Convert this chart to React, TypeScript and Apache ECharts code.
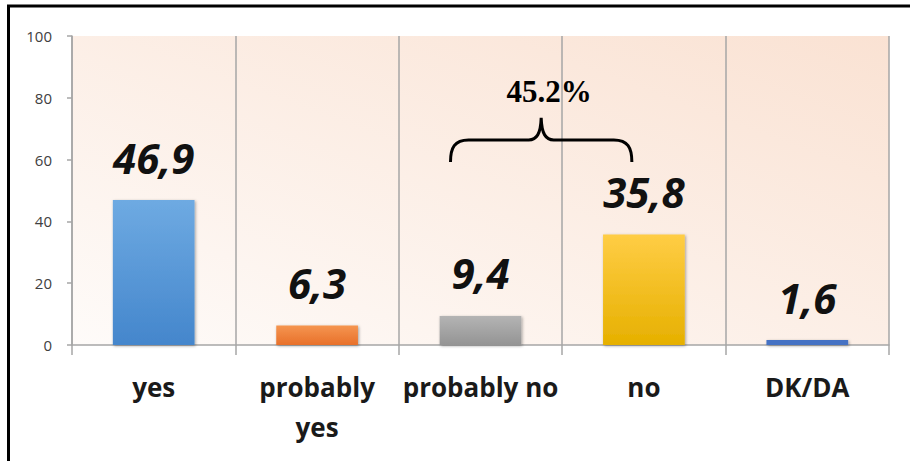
import React, { useEffect, useRef } from "react";
import * as echarts from "echarts";

const categories = ["yes", "probably yes", "probably no", "no", "DK/DA"];
const values = [46.9, 6.3, 9.4, 35.8, 1.6];
const barColors = [
  ["#6eaae2", "#4486cc"],
  ["#f59550", "#e8702a"],
  ["#b4b4b4", "#949494"],
  ["#ffcd45", "#e6b000"],
  ["#4472c4", "#4472c4"],
];
const yTicks = { min: 0, max: 100, interval: 20 };
const braceLabel = "45.2%";
const braceFrom = 2;
const braceTo = 3;
const braceLevel = 73.5;

const BRACE_W = 181;
const braceD =
  "M0,44 C0,30 4,22 18,22 L78,22 C86,22 90,16 90.5,0 C91,16 95,22 103,22 L163,22 C177,22 181,30 181,44";

echarts.graphic.registerShape("brace", echarts.graphic.extendPath(braceD, {}) as any);

export default function App() {
  const ref = useRef<HTMLDivElement>(null);
  useEffect(() => {
    if (!ref.current) return;
    const chart = echarts.init(ref.current, null, { renderer: "svg" });
    const option: any = {
      animation: false,
      grid: {
        left: 72,
        right: 21,
        top: 36,
        bottom: 116,
        show: true,
        borderWidth: 0,
        backgroundColor: new echarts.graphic.LinearGradient(0, 1, 1, 0, [
          { offset: 0, color: "#fefbf9" },
          { offset: 1, color: "#fae2d3" },
        ]),
      },
      xAxis: {
        type: "category",
        data: categories,
        boundaryGap: true,
        axisLine: { lineStyle: { color: "#a6a6a6", width: 1.5 } },
        axisTick: { show: true, length: 10, interval: 0, lineStyle: { color: "#a6a6a6", width: 1.5 } },
        splitLine: { show: true, interval: 0, lineStyle: { color: "#a6a6a6", width: 1.5 } },
        axisLabel: {
          interval: 0,
          margin: 22,
          fontFamily: "Open Sans",
          fontWeight: "bold",
          fontSize: 26,
          lineHeight: 40,
          color: "#1a1a1a",
          formatter: (v: string) => (v === "probably yes" ? "probably\nyes" : v),
        },
      },
      yAxis: {
        type: "value",
        min: yTicks.min,
        max: yTicks.max,
        interval: yTicks.interval,
        axisLine: { show: true, lineStyle: { color: "#a6a6a6", width: 1.5 } },
        axisTick: { show: true, length: 5, lineStyle: { color: "#a6a6a6", width: 1.5 } },
        splitLine: { show: false },
        axisLabel: { fontFamily: "Open Sans", fontSize: 15, color: "#404040", margin: 20 },
      },
      series: [
        {
          type: "bar",
          barWidth: "50%",
          data: values.map((v, i) => ({
            value: v,
            itemStyle: {
              color: new echarts.graphic.LinearGradient(0, 0, 0, 1, [
                { offset: 0, color: barColors[i][0] },
                { offset: 1, color: barColors[i][1] },
              ]),
              shadowBlur: 3,
              shadowColor: "rgba(0,0,0,0.35)",
              shadowOffsetX: 1,
              shadowOffsetY: 1,
            },
          })),
          label: {
            show: true,
            position: "top",
            distance: 22,
            fontFamily: "Open Sans",
            fontWeight: "bold",
            fontStyle: "italic",
            fontSize: 42,
            color: "#111111",
            formatter: (p: any) => String(p.value).replace(".", ","),
          },
        },
      ],
      graphic: [
        {
          type: "rect",
          shape: { x: 8.5, y: 6, width: 2000, height: 2000 },
          style: { fill: "none", stroke: "#000", lineWidth: 3 },
          silent: true,
          z: 100,
        },
      ],
    };
    chart.setOption(option);
    const pFrom = chart.convertToPixel({ gridIndex: 0 }, [braceFrom, braceLevel]) as number[];
    const pTo = chart.convertToPixel({ gridIndex: 0 }, [braceTo, braceLevel]) as number[];
    const x0 = pFrom[0] - 30;
    const x1 = pTo[0] - 12;
    const w = x1 - x0;
    chart.setOption({
      graphic: [
        option.graphic[0],
        {
          type: "brace",
          x: x0,
          y: pFrom[1],
          scaleX: w / BRACE_W,
          scaleY: 1,
          style: { fill: "none", stroke: "#000", lineWidth: 3 },
          silent: true,
          z: 50,
        },
        {
          type: "text",
          x: (x0 + x1) / 2 + 8,
          y: pFrom[1] - 26,
          style: {
            text: braceLabel,
            fontFamily: "Liberation Serif",
            fontWeight: "bold",
            fontSize: 31,
            fill: "#000",
            align: "center",
            verticalAlign: "middle",
          },
          silent: true,
          z: 50,
        },
      ],
    });
    return () => chart.dispose();
  }, []);
  return (
    <div
      ref={ref}
      style={{ position: "fixed", left: 0, top: 0, width: 910, height: 461, background: "#fff" }}
    />
  );
}
